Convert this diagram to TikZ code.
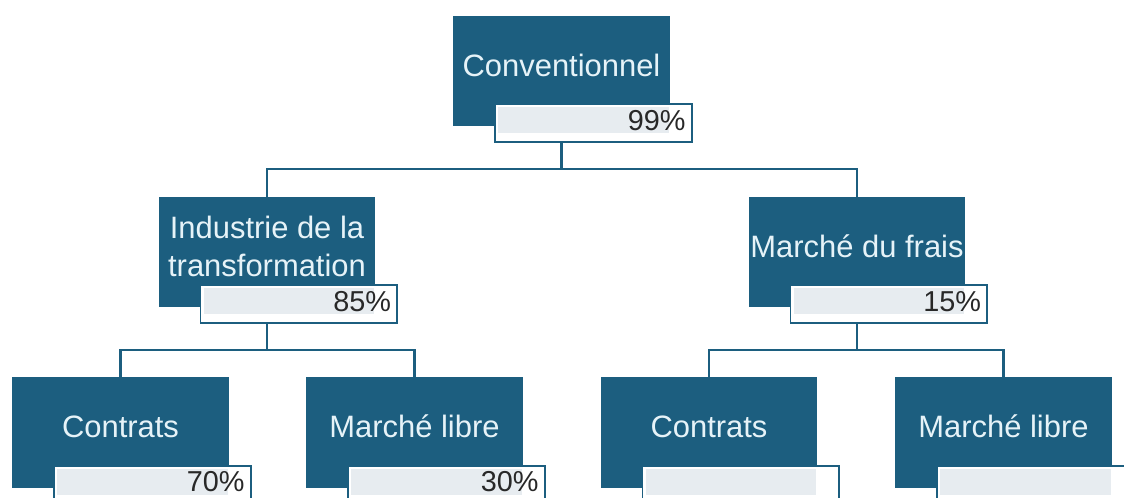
\documentclass[tikz,border=0pt]{standalone}
\usepackage{fontspec}
\setmainfont{Liberation Sans}
\usetikzlibrary{calc}
\definecolor{boxblue}{RGB}{28,94,127}
\definecolor{bandgray}{RGB}{231,236,240}
\definecolor{lbltext}{RGB}{230,243,248}
\definecolor{pcttext}{RGB}{40,40,40}
\tikzset{
  box/.style={fill=boxblue,minimum width=5.4cm,minimum height=2.75cm,inner sep=0pt},
  boxlbl/.style={text=lbltext,font=\fontsize{22}{27}\selectfont,align=center,yshift=0.15cm},
  pct/.style={draw=boxblue,line width=1.3pt,fill=white,anchor=north east,minimum height=0.95cm,
    text width=4.6cm,inner xsep=0.16cm,inner ysep=0pt,align=right,text=pcttext,
    text depth=0.15cm,font=\fontsize{20.5}{24}\selectfont,
    path picture={\fill[bandgray] ([shift={(3,3)}]path picture bounding box.north west)
      rectangle ([shift={(-23,29)}]path picture bounding box.north east);}},
  link/.style={draw=boxblue,line width=1.7pt}
}
\begin{document}
\begin{tikzpicture}[x=0.025cm,y=-0.025cm]
\useasboundingbox (0,0) rectangle (1124,498);
\clip (0,0) rectangle (1124,498);
\fill[white] (0,0) rectangle (1124,498);
\node[box,label={[boxlbl,name=convl]center:Conventionnel}] (conv) at (561.5,71) {};
\node[pct] (convp) at ([shift={(23,-23)}]conv.south east) {99\%};
\node[box,label={[boxlbl,name=indl]center:{Industrie de la\\transformation}}] (ind) at (267,252) {};
\node[pct] (indp) at ([shift={(23,-23)}]ind.south east) {85\%};
\node[box,label={[boxlbl,name=fral]center:Marché du frais}] (fra) at (857,252) {};
\node[pct] (frap) at ([shift={(23,-23)}]fra.south east) {15\%};
\node[box,label={[boxlbl,name=cll]center:Contrats}] (cl) at (120.5,432.5) {};
\node[pct] (clp) at ([shift={(23,-23)}]cl.south east) {70\%};
\node[box,label={[boxlbl,name=mll]center:Marché libre}] (ml) at (414.5,432.5) {};
\node[pct] (mlp) at ([shift={(23,-23)}]ml.south east) {30\%};
\node[box,label={[boxlbl,name=crl]center:Contrats}] (cr) at (709,432.5) {};
\node[pct] (crp) at ([shift={(23,-23)}]cr.south east) {};
\node[box,label={[boxlbl,name=mrl]center:Marché libre}] (mr) at (1003.5,432.5) {};
\node[pct] (mrp) at ([shift={(23,-23)}]mr.south east) {};
\draw[link] (conv.south |- convp.south) -- ++(0,26) coordinate (bus1);
\draw[link] (ind.north) |- (bus1) -| (fra.north);
\draw[link] (ind.south |- indp.south) -- ++(0,26) coordinate (bus2);
\draw[link] (cl.north) |- (bus2) -| (ml.north);
\draw[link] (fra.south |- frap.south) -- ++(0,26) coordinate (bus3);
\draw[link] (cr.north) |- (bus3) -| (mr.north);
\end{tikzpicture}
\end{document}
